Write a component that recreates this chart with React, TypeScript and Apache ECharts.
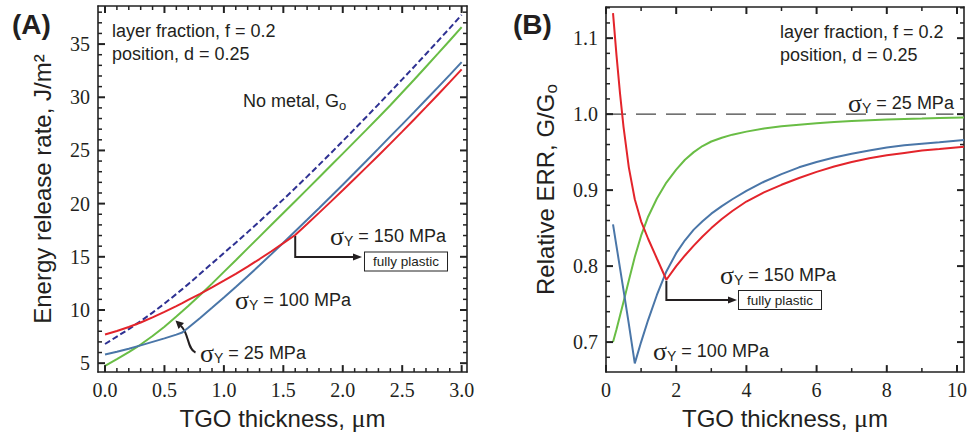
import React, { useEffect, useRef } from 'react';
import * as echarts from 'echarts';

// ---------- Panel A: energy release rate vs TGO thickness ----------
const aThickness = [0, 0.1, 0.2, 0.3, 0.4, 0.5, 0.6, 0.65, 0.7, 0.8, 0.9, 1.0, 1.1, 1.2, 1.3, 1.4, 1.5, 1.6, 1.7, 1.8, 1.9, 2.0, 2.1, 2.2, 2.3, 2.4, 2.5, 2.6, 2.7, 2.8, 2.9, 3.0];
const aNoMetal = [6.8, 7.5, 8.2, 8.95, 9.75, 10.6, 11.5, 11.96, 12.43, 13.4, 14.38, 15.35, 16.33, 17.32, 18.33, 19.36, 20.4, 21.46, 22.54, 23.64, 24.75, 25.88, 27.02, 28.17, 29.33, 30.5, 31.68, 32.87, 34.07, 35.28, 36.5, 37.75];
const aSigma25 = [4.75, 5.38, 6.03, 6.75, 7.55, 8.43, 9.38, 9.87, 10.37, 11.4, 12.48, 13.58, 14.68, 15.79, 16.9, 18.01, 19.12, 20.23, 21.34, 22.46, 23.58, 24.7, 25.83, 26.96, 28.1, 29.25, 30.45, 31.65, 32.87, 34.1, 35.34, 36.6];
const aSigma100 = [5.82, 6.08, 6.36, 6.67, 7.0, 7.33, 7.68, 7.88, 8.33, 9.25, 10.2, 11.17, 12.16, 13.17, 14.2, 15.25, 16.32, 17.4, 18.48, 19.57, 20.67, 21.78, 22.9, 24.03, 25.17, 26.32, 27.45, 28.6, 29.76, 30.93, 32.11, 33.3];
const aSigma150 = [7.7, 8.03, 8.4, 8.82, 9.3, 9.82, 10.37, 10.65, 10.94, 11.52, 12.12, 12.75, 13.4, 14.08, 14.79, 15.52, 16.28, 17.05, 18.08, 19.13, 20.19, 21.26, 22.34, 23.43, 24.53, 25.64, 26.77, 27.91, 29.07, 30.24, 31.42, 32.62];
const aKinkX = 1.6; // fully plastic point of the 150 MPa curve
const aXRange = [-0.059, 3.045];
const aYRange = [4.16, 38.58];
const aXTicks = [0, 0.5, 1.0, 1.5, 2.0, 2.5, 3.0];
const aYTicks = [5, 10, 15, 20, 25, 30, 35];

// ---------- Panel B: relative ERR vs TGO thickness ----------
const bThickness = [0.2, 0.3, 0.4, 0.5, 0.65, 0.82, 1.0, 1.2, 1.45, 1.72, 2.0, 2.25, 2.5, 2.75, 3.0, 3.3, 3.6, 4.0, 4.5, 5.0, 5.5, 6.0, 6.5, 7.0, 7.5, 8.0, 8.5, 9.0, 9.5, 10.2];
const bSigma150 = [1.133, 1.077, 1.027, 0.983, 0.93, 0.888, 0.859, 0.836, 0.81, 0.782, 0.8, 0.814, 0.827, 0.839, 0.85, 0.862, 0.8725, 0.885, 0.897, 0.907, 0.916, 0.924, 0.931, 0.937, 0.942, 0.946, 0.949, 0.952, 0.954, 0.957];
const bSigma100 = [0.855, 0.826, 0.797, 0.768, 0.724, 0.672, 0.7, 0.729, 0.762, 0.793, 0.817, 0.834, 0.848, 0.859, 0.869, 0.879, 0.888, 0.899, 0.911, 0.921, 0.93, 0.937, 0.943, 0.948, 0.952, 0.956, 0.959, 0.961, 0.963, 0.966];
const bSigma25 = [0.7, 0.717, 0.735, 0.753, 0.781, 0.812, 0.84, 0.865, 0.889, 0.91, 0.927, 0.94, 0.95, 0.958, 0.964, 0.969, 0.973, 0.977, 0.981, 0.984, 0.986, 0.988, 0.9895, 0.991, 0.992, 0.993, 0.9937, 0.9943, 0.995, 0.9955];
const bRefX = [0, 9.9];
const bRefY = [1.0, 1.0];
const bKinkX = 1.72;
const bXRange = [0, 10.2];
const bYRange = [0.6605, 1.141];
const bXTicks = [0, 2, 4, 6, 8, 10];
const bYTicks = [0.7, 0.8, 0.9, 1.0, 1.1];

const INK = '#231f20';
const AXIS = '#222222';
const RED = '#e3242b';
const GREEN = '#69bd45';
const BLUE = '#4a76a8';
const NAVY = '#2e3192';
const SANS = 'Liberation Sans';
const SERIF = 'Liberation Serif';

const pairs = (xs: number[], ys: number[]) => xs.map((x, i) => [x, ys[i]]);

// minor tick positions between (and beyond) the major ticks, inside the range
function minorTicks(major: number[], parts: number, range: number[]) {
  const step = (major[1] - major[0]) / parts;
  const out: number[] = [];
  const first = major[0] - step * parts;
  const last = major[major.length - 1] + step * parts;
  for (let k = 0; first + k * step <= last + 1e-9; k++) {
    const v = Math.round((first + k * step) * 1e6) / 1e6;
    if (k % parts === 0) continue;
    if (v > range[0] && v < range[1]) out.push(v);
  }
  return out;
}

function valueAxis(o: any) {
  return {
    type: 'value',
    gridIndex: o.grid,
    position: o.position,
    min: o.range[0],
    max: o.range[1],
    splitNumber: o.split,
    axisLine: { show: true, onZero: false, lineStyle: { color: AXIS, width: 1.6 } },
    axisTick: { show: false },
    minorTick: { show: false },
    splitLine: { show: false },
    axisLabel: {
      show: !!o.labels,
      margin: 8,
      showMinLabel: !!o.showMin,
      showMaxLabel: false,
      formatter: o.fmt || '{value}',
      fontFamily: SERIF,
      fontSize: 20,
      color: INK,
    },
    name: o.name || '',
    nameLocation: 'middle',
    nameGap: o.nameGap || 15,
    nameTextStyle: o.nameStyle || {},
  };
}

const sigRich = {
  s: { fontFamily: SERIF, fontSize: 26, fill: INK },
  y: { fontFamily: SANS, fontSize: 14, fill: INK, padding: [9, 0, 0, 0] },
  t: { fontFamily: SANS, fontSize: 18, fill: INK },
};

function label(x: number, y: number, text: string, rich?: any, size = 18) {
  return {
    type: 'text',
    x,
    y,
    silent: true,
    style: {
      text,
      rich,
      fontFamily: SANS,
      fontSize: size,
      fill: INK,
      align: 'left',
      verticalAlign: 'middle',
    },
  };
}

function sigma(x: number, y: number, value: string) {
  return label(x, y, `{s|σ}{y|Y}{t| = ${value} MPa}`, sigRich);
}

function boxLabel(cx: number, cy: number) {
  return {
    type: 'text',
    x: cx,
    y: cy,
    silent: true,
    style: {
      text: 'fully plastic',
      fontFamily: SANS,
      fontSize: 13.5,
      fill: INK,
      align: 'center',
      verticalAlign: 'middle',
      padding: [2, 8, 2, 8],
      borderColor: AXIS,
      borderWidth: 1,
      backgroundColor: '#ffffff',
    },
  };
}

function elbowArrow(p: number[], yDown: number, xEnd: number) {
  return [
    {
      type: 'polyline',
      silent: true,
      shape: { points: [[p[0], p[1] + 1], [p[0], yDown], [xEnd - 8, yDown]] },
      style: { stroke: INK, lineWidth: 2, fill: null },
    },
    {
      type: 'polygon',
      silent: true,
      shape: { points: [[xEnd, yDown], [xEnd - 9, yDown - 3.5], [xEnd - 9, yDown + 3.5]] },
      style: { fill: INK },
    },
  ];
}

function buildOption() {
  const axisNameStyle = { fontFamily: SANS, fontSize: 24, color: INK };
  const xNameStyle = {
    ...axisNameStyle,
    rich: {
      a: { fontFamily: SANS, fontSize: 24, color: INK },
      m: { fontFamily: SERIF, fontSize: 26, color: INK },
    },
  };
  const xName = '{a|TGO thickness, }{m|μ}{a|m}';
  const line = (xi: number, xs: number[], ys: number[], lineStyle: any) => ({
    type: 'line', xAxisIndex: xi, yAxisIndex: xi, data: pairs(xs, ys),
    showSymbol: false, symbol: 'none', silent: true, lineStyle,
  });
  return {
    animation: false,
    backgroundColor: '#ffffff',
    grid: [
      { left: 98, top: 6, width: 369, height: 368.5 },
      { left: 606, top: 7, width: 359, height: 367.5 },
    ],
    xAxis: [
      valueAxis({ grid: 0, position: 'bottom', range: aXRange, split: 6, labels: true, fmt: (v: number) => v.toFixed(1), name: xName, nameGap: 31, nameStyle: xNameStyle }),
      valueAxis({ grid: 0, position: 'top', range: aXRange, split: 6 }),
      valueAxis({ grid: 1, position: 'bottom', range: bXRange, split: 5, labels: true, showMin: true, fmt: (v: number) => String(v), name: xName, nameGap: 31, nameStyle: xNameStyle }),
      valueAxis({ grid: 1, position: 'top', range: bXRange, split: 5 }),
    ],
    yAxis: [
      valueAxis({ grid: 0, position: 'left', range: aYRange, split: 7, labels: true, fmt: (v: number) => String(v), name: 'Energy release rate, J/m²', nameGap: 44, nameStyle: axisNameStyle }),
      valueAxis({ grid: 0, position: 'right', range: aYRange, split: 7 }),
      valueAxis({
        grid: 1, position: 'left', range: bYRange, split: 5, labels: true,
        fmt: (v: number) => v.toFixed(1),
        name: '{a|Relative ERR, G/G}{b|o}', nameGap: 46,
        nameStyle: {
          ...axisNameStyle,
          rich: {
            a: { fontFamily: SANS, fontSize: 24, color: INK },
            b: { fontFamily: SANS, fontSize: 17, color: INK, padding: [12, 0, 0, 0] },
          },
        },
      }),
      valueAxis({ grid: 1, position: 'right', range: bYRange, split: 5 }),
    ],
    series: [
      line(0, aThickness, aNoMetal, { color: NAVY, width: 2, type: [6, 3] }),
      line(0, aThickness, aSigma25, { color: GREEN, width: 2 }),
      line(0, aThickness, aSigma100, { color: BLUE, width: 2 }),
      line(0, aThickness, aSigma150, { color: RED, width: 2 }),
      line(2, bRefX, bRefY, { color: '#444444', width: 1.2, type: [20, 10] }),
      line(2, bThickness, bSigma25, { color: GREEN, width: 2 }),
      line(2, bThickness, bSigma100, { color: BLUE, width: 2 }),
      line(2, bThickness, bSigma150, { color: RED, width: 2 }),
    ],
  };
}

// tick marks on all four sides of a panel, placed through the chart's own scales
function frameTicks(chart: any, idx: number, xr: number[], yr: number[], xMajor: number[], xParts: number, yMajor: number[], yParts: number) {
  const finder = { xAxisIndex: idx, yAxisIndex: idx };
  const p0 = chart.convertToPixel(finder, [xr[0], yr[0]]);
  const p1 = chart.convertToPixel(finder, [xr[1], yr[1]]);
  const left = p0[0], bottom = p0[1], right = p1[0], top = p1[1];
  const els: any[] = [];
  const tick = (x1: number, y1: number, x2: number, y2: number, w: number) => els.push({
    type: 'line', silent: true, z: 10, shape: { x1, y1, x2, y2 }, style: { stroke: AXIS, lineWidth: w },
  });
  const MAJ = 7, MIN = 4;
  const addX = (vals: number[], len: number, w: number) => vals.forEach((v) => {
    const x = chart.convertToPixel(finder, [v, yr[0]])[0];
    tick(x, bottom, x, bottom - len, w);
    tick(x, top, x, top + len, w);
  });
  const addY = (vals: number[], len: number, w: number) => vals.forEach((v) => {
    const y = chart.convertToPixel(finder, [xr[0], v])[1];
    tick(left, y, left + len, y, w);
    tick(right, y, right - len, y, w);
  });
  addX(xMajor, MAJ, 2);
  addX(minorTicks(xMajor, xParts, xr), MIN, 1.5);
  addY(yMajor, MAJ, 2);
  addY(minorTicks(yMajor, yParts, yr), MIN, 1.5);
  return els;
}

function buildGraphics(kA: number[], kB: number[]) {
  const subRich = {
    t: { fontFamily: SANS, fontSize: 18, fill: INK },
    o: { fontFamily: SANS, fontSize: 13, fill: INK, padding: [9, 0, 0, 0] },
  };
  const tip = [175.5, 320.5];
  const base = [181, 326];
  return [
    { type: 'text', x: 12, y: 24, silent: true, style: { text: '(A)', fontFamily: SANS, fontWeight: 'bold', fontSize: 28, fill: INK, align: 'left', verticalAlign: 'middle' } },
    { type: 'text', x: 513, y: 24, silent: true, style: { text: '(B)', fontFamily: SANS, fontWeight: 'bold', fontSize: 28, fill: INK, align: 'left', verticalAlign: 'middle' } },
    label(112, 31, 'layer fraction, f = 0.2'),
    label(112, 54, 'position, d = 0.25'),
    label(243, 101, '{t|No metal, G}{o|o}', subRich),
    sigma(330, 236, '150'),
    sigma(235, 300, '100'),
    sigma(200, 353, '25'),
    boxLabel(406, 261.5),
    ...elbowArrow(kA, 257, 362),
    {
      type: 'bezierCurve',
      silent: true,
      shape: { x1: 195.5, y1: 352.5, cpx1: 187, cpy1: 349, cpx2: 189, cpy2: 333, x2: base[0], y2: base[1] },
      style: { stroke: INK, lineWidth: 2, fill: null },
    },
    {
      type: 'polygon',
      silent: true,
      shape: { points: [tip, [184, 323], [178.5, 329]] },
      style: { fill: INK },
    },
    label(780, 32, 'layer fraction, f = 0.2'),
    label(780, 55, 'position, d = 0.25'),
    sigma(848, 103, '25'),
    sigma(720, 275, '150'),
    sigma(653, 351, '100'),
    boxLabel(780, 300),
    ...elbowArrow(kB, 300, 737),
  ];
}

export default function App() {
  const ref = useRef<HTMLDivElement>(null);
  useEffect(() => {
    const el = ref.current;
    if (!el) return;
    const chart = echarts.init(el, undefined, { renderer: 'svg' });
    chart.setOption(buildOption() as any);
    const ia = aThickness.indexOf(aKinkX);
    const ib = bThickness.indexOf(bKinkX);
    const kA = chart.convertToPixel({ xAxisIndex: 0, yAxisIndex: 0 } as any, [aThickness[ia], aSigma150[ia]]) as number[];
    const kB = chart.convertToPixel({ xAxisIndex: 2, yAxisIndex: 2 } as any, [bThickness[ib], bSigma150[ib]]) as number[];
    const ticks = [
      ...frameTicks(chart, 0, aXRange, aYRange, aXTicks, 5, aYTicks, 5),
      ...frameTicks(chart, 2, bXRange, bYRange, bXTicks, 2, bYTicks, 5),
    ];
    chart.setOption({ graphic: [...ticks, ...buildGraphics(kA, kB)] } as any);
    return () => chart.dispose();
  }, []);
  return <div ref={ref} style={{ position: 'absolute', left: 0, top: 0, width: 970, height: 436 }} />;
}
